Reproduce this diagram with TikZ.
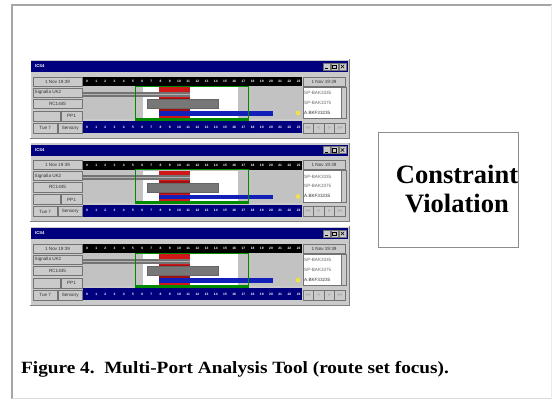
\documentclass[tikz,border=0pt]{standalone}
\usepackage{fontspec}
\setmainfont{Liberation Serif}
\newfontfamily\uisans{Liberation Sans}
\newfontfamily\capfont[FakeStretch=1.12]{Liberation Serif}
\definecolor{winbg}{HTML}{CACACA}
\definecolor{navy}{HTML}{00007F}
\definecolor{chartgray}{HTML}{C2C2C2}
\definecolor{framegray}{HTML}{A6A6A6}
\definecolor{barred}{HTML}{D01818}
\definecolor{darkred}{HTML}{A01010}
\definecolor{barblue}{HTML}{1020B8}
\definecolor{bargray}{HTML}{777777}
\definecolor{grn}{HTML}{008A00}
\definecolor{dotyellow}{HTML}{EEE050}
\tikzset{
  uibox/.style={draw=black!55, line width=0.35pt, fill=winbg},
  uitext/.style={font=\uisans\fontsize{4.6}{5}\selectfont, inner sep=0pt, text=black!80},
  ticklbl/.style={font=\uisans\bfseries\fontsize{3.3}{3.5}\selectfont, inner sep=0pt, text=white},
  titletext/.style={font=\uisans\bfseries\fontsize{4.2}{4.5}\selectfont, inner sep=0pt, text=white},
  bigtext/.style={font=\bfseries\fontsize{26.5}{29}\selectfont, inner sep=0pt},
  captext/.style={font=\capfont\bfseries\fontsize{17.2}{18}\selectfont, inner sep=0pt},
  rule/.style={draw=framegray, line width=1.3pt}
}
\newcommand\mpwin[2]{%
\begin{scope}[shift={(0,#1)}]
  % window body
  \fill[winbg] (30,59) rectangle (349,138);
  \draw[white, line width=0.5pt] (30,138) -- (30,59) -- (349,59);
  \draw[black!50, line width=0.5pt] (349,59) -- (349,138) -- (30,138);
  % title bar
  \fill[navy] (31,61) rectangle (348,72);
  \node[titletext, anchor=west] (#2title) at (35,66.5) {ICS4};
  \foreach \bx in {323.5,331,339} {\draw[uibox, fill=winbg] (\bx,63) rectangle ++(7,7);}
  \draw[black, line width=0.5pt] (325,68.5) -- (328,68.5);
  \draw[black, line width=0.4pt] (332.5,64.8) rectangle (336.5,68.5);
  \draw[black, line width=0.5pt] (340.8,64.8) -- (344.2,68.2) (340.8,68.2) -- (344.2,64.8);
  % top ruler row
  \draw[uibox] (33,77) rectangle (82,86);
  \node[uitext] (#2tl) at (57.5,81.5) {1 Nov 19:39};
  \fill[black] (83,77) rectangle (302,86);
  \foreach \i in {0,...,23} {\node[ticklbl] (#2tk\i) at (87+\i*9.2,81.5) {\i};}
  \draw[uibox] (303,77) rectangle (345,86);
  \node[uitext] (#2tr) at (324,81.5) {1 Nov 19:39};
  % left column
  \draw[uibox] (33,88) rectangle (82,97);
  \node[uitext, anchor=west] (#2sig) at (34.5,92.5) {Signalla UK2};
  \draw[uibox] (33,99) rectangle (82,108.5);
  \node[uitext] (#2rc) at (57.5,103.7) {RC1445};
  \draw[uibox] (33,111) rectangle (60,121);
  \draw[uibox] (61,111) rectangle (82,121);
  \node[uitext] (#2pp) at (71.5,116) {PP1};
  \draw[uibox] (33,123) rectangle (57.5,133);
  \node[uitext] (#2tue) at (45.2,128) {Tue 7};
  \draw[uibox] (58.5,123) rectangle (82,133);
  \node[uitext] (#2sen) at (70.2,128) {Sensory};
  % chart
  \fill[chartgray] (83,86) rectangle (302,119);
  \fill[white] (143,87) rectangle (238,118);
  \fill[barred] (159,87) rectangle (190,118);
  \fill[darkred] (159,97.5) rectangle (190,99);
  \fill[darkred] (159,109) rectangle (190,110.5);
  \fill[black!55] (83,91.5) rectangle (190,96.5);
  \fill[black!30] (83,93.6) rectangle (190,94.4);
  \draw[black!60, fill=bargray, line width=0.3pt] (147,99.5) rectangle (218,108.5);
  \fill[barblue] (159,111.2) rectangle (273,115.8);
  \draw[grn, line width=0.5pt] (135,86) rectangle (248,120);
  \fill[grn] (135,117.8) rectangle (248,120.6);
  \fill[dotyellow] (298,113) circle (2.4);
  % bottom ruler
  \fill[navy] (83,121) rectangle (302,133);
  \foreach \i in {0,...,23} {\node[ticklbl] (#2bk\i) at (87+\i*9.2,127) {\i};}
  % right list
  \fill[white] (303,87) rectangle (341.5,118.5);
  \draw[black!55, line width=0.35pt] (303,87) rectangle (346,118.5);
  \draw[uibox] (341.5,87) rectangle (346,118.5);
  \node[uitext, text=black!60, anchor=west] (#2l1) at (304,93) {SP-BAK3335};
  \node[uitext, text=black!60, anchor=west] (#2l2) at (304,102.5) {SP-BAK3375};
  \node[uitext, anchor=west] (#2l3) at (304,112.5) {A.BKF33235};
  % bottom right buttons
  \foreach \bx in {303,313.5,324,334.5} {\draw[uibox] (\bx,123) rectangle ++(10.5,10);}
  \node[uitext, text=black!50] (#2b1) at (308.2,128) {<<};
  \node[uitext, text=black!50] (#2b2) at (318.7,128) {<};
  \node[uitext, text=black!50] (#2b3) at (329.2,128) {>};
  \node[uitext, text=black!50] (#2b4) at (339.7,128) {>>};
\end{scope}}
\begin{document}
\begin{tikzpicture}[x=1pt,y=-1pt]
  \useasboundingbox (0,0) rectangle (552,400);
  \fill[white] (0,0) rectangle (552,400);
  % page frame
  \draw[rule] (12,5) -- (552,5);
  \draw[rule] (12,4.4) -- (12,398.5);
  \draw[draw=black!15, line width=1.2pt] (12,398.5) -- (552,398.5);
  \draw[draw=black!8, line width=0.8pt] (551,5) -- (551,398.5);
  % three tool windows
  \mpwin{0}{wa}
  \mpwin{83.5}{wb}
  \mpwin{167}{wc}
  % constraint box
  \node[draw=black!45, line width=0.8pt, minimum width=140pt, minimum height=115pt, inner sep=0pt] (cbox) at (448,189.5) {};
  \node[bigtext, anchor=base] (cv1) at (457,183) {Constraint};
  \node[bigtext, anchor=base] (cv2) at (457,212) {Violation};
  % caption
  \node[captext, anchor=base west] (cap) at (21,373) {Figure 4.\ \ Multi-Port Analysis Tool (route set focus).};
\end{tikzpicture}
\end{document}
